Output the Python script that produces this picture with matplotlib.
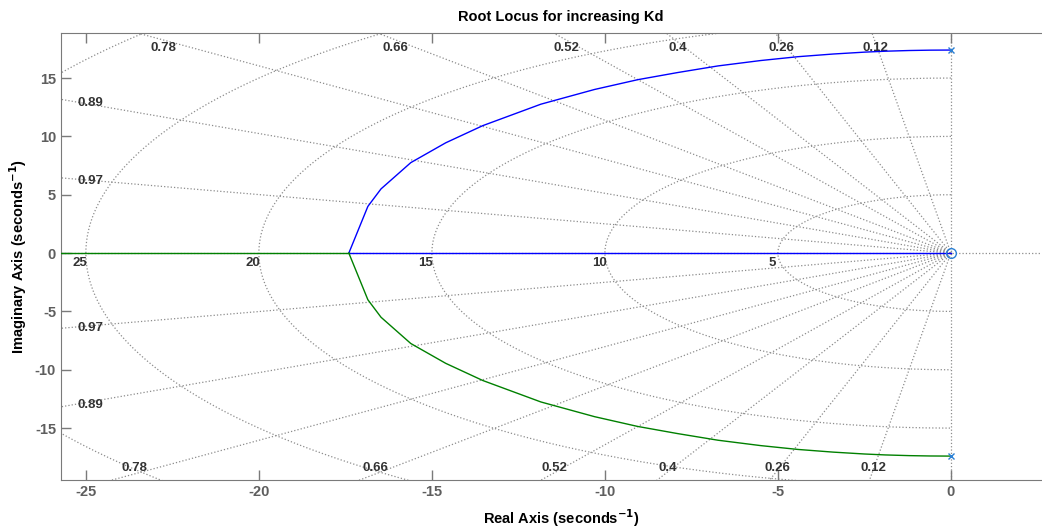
import numpy as np
import matplotlib.pyplot as plt

plt.rcParams['font.family'] = ['Liberation Sans', 'DejaVu Sans']
plt.rcParams['font.weight'] = 'bold'
plt.rcParams['axes.unicode_minus'] = False

# upper branch of the locus, from the pole at +j17.4 down to the breakaway point
branch_re = [0.0, -0.6, -1.2, -1.9, -2.5, -3.4, -4.42, -5.5, -6.73, -7.9, -9.05, -10.3,
             -11.85, -13.53, -14.6, -15.61, -16.47, -16.85, -17.4]
branch_im = [17.4, 17.39, 17.36, 17.3, 17.22, 17.06, 16.83, 16.5, 16.04, 15.47, 14.86, 14.02,
             12.76, 10.92, 9.45, 7.75, 5.5, 4.0, 0.0]
breakaway = -17.4
far_left = -40.0

poles_re = [0.0, 0.0]
poles_im = [17.4, -17.4]
zeros_re = [0.0]
zeros_im = [0.0]

# sgrid values
zetas = [0.12, 0.26, 0.4, 0.52, 0.66, 0.78, 0.89, 0.97]
wns = [5, 10, 15, 20, 25, 30]

# label positions for the damping lines
zeta_top = {0.78: -22.75, 0.66: -16.04, 0.52: -11.1, 0.4: -7.9, 0.26: -4.91, 0.12: -2.17}
zeta_bot = {0.78: -23.61, 0.66: -16.62, 0.52: -11.47, 0.4: -8.18, 0.26: -5.0, 0.12: -2.23}
zeta_left = {0.89: (12.9, -13.0), 0.97: (6.21, -6.4)}

fig = plt.figure(figsize=(10.42, 5.29), dpi=100)
ax = fig.add_axes([0.0585, 0.0926, 0.96, 0.845])

grid_kw = dict(color='#8c8c8c', linestyle=':', linewidth=0.9, zorder=1)

# damping ratio rays
for z in zetas:
    r = np.array([0, 45])
    ax.plot(-z * r, np.sqrt(1 - z**2) * r, **grid_kw)
    ax.plot(-z * r, -np.sqrt(1 - z**2) * r, **grid_kw)

# natural frequency arcs in the left half plane
th = np.linspace(np.pi / 2, 3 * np.pi / 2, 400)
for wn in wns:
    ax.plot(wn * np.cos(th), wn * np.sin(th), **grid_kw)

ax.axvline(0, **grid_kw)
ax.axhline(0, **grid_kw)

lab_kw = dict(fontsize=9.5, color='#333333', ha='center', va='center', fontweight='bold', zorder=2)
for z in zetas:
    if z in zeta_top:
        ax.text(zeta_top[z], 17.55, f'{z:g}', **lab_kw)
        ax.text(zeta_bot[z], -18.39, f'{z:g}', **lab_kw)
    else:
        ax.text(-24.88, zeta_left[z][0], f'{z:g}', **lab_kw)
        ax.text(-24.88, zeta_left[z][1], f'{z:g}', **lab_kw)
for wn in wns[:-1]:
    ax.text(-wn - 0.17, -0.83, str(wn), **lab_kw)

# locus branches
br = np.array(branch_re)
bi = np.array(branch_im)
ax.plot(br, bi, color='#0000ff', linewidth=1.0, zorder=3)
ax.plot([breakaway, 0.0], [0, 0], color='#0000ff', linewidth=1.0, zorder=3)
ax.plot(br, -bi, color='#008000', linewidth=1.0, zorder=3)
ax.plot([far_left, breakaway], [0, 0], color='#008000', linewidth=1.0, zorder=3)

ax.plot(poles_re, poles_im, 'x', color='#2a7fd4', markersize=5, markeredgewidth=1.0, zorder=4)
ax.plot(zeros_re, zeros_im, 'o', color='#2a7fd4', markersize=7, markerfacecolor='none',
        markeredgewidth=1.0, zorder=4)

# right edge of the box sits just past the figure border
ax.set_xlim(-25.72, 3.19)
ax.set_ylim(-19.45, 18.86)
ax.set_xticks([-25, -20, -15, -10, -5, 0])
ax.set_yticks([-15, -10, -5, 0, 5, 10, 15])

for s in ax.spines.values():
    s.set_color('#7a7a7a')
ax.tick_params(direction='in', length=7, width=1, colors='#7a7a7a', labelcolor='#5e5e5e',
               labelsize=10.5, top=True, right=True)
for lab in ax.get_xticklabels() + ax.get_yticklabels():
    lab.set_fontweight('bold')

ax.set_title('Root Locus for increasing Kd', fontsize=10.5, fontweight='bold', pad=9)
ax.set_xlabel('Real Axis (seconds$^{\\mathbf{-1}}$)', fontsize=10.5, fontweight='bold', labelpad=6)
ax.set_ylabel('Imaginary Axis (seconds$^{\\mathbf{-1}}$)', fontsize=10.5, fontweight='bold', labelpad=4)

fig.savefig('out.png', dpi=100)
